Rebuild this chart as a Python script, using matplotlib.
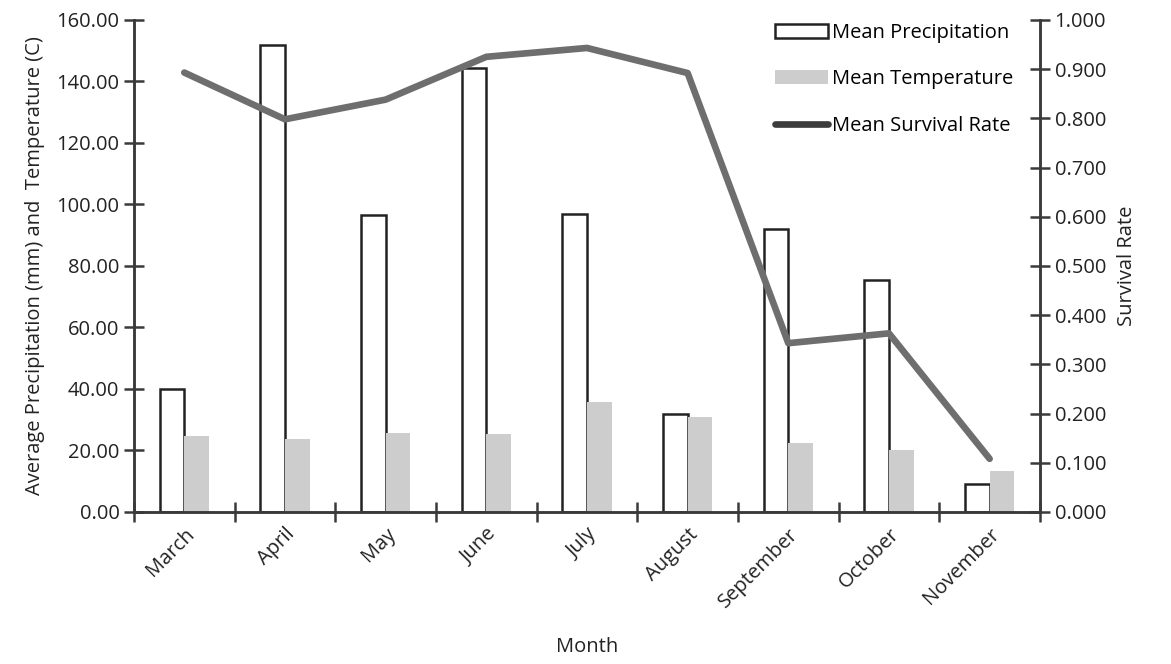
import numpy as np
import matplotlib.pyplot as plt
from matplotlib.patches import Patch
from matplotlib.lines import Line2D

months = ['March', 'April', 'May', 'June', 'July', 'August', 'September', 'October', 'November']
precip = [40.0, 152.0, 96.5, 144.3, 97.0, 31.8, 92.0, 75.5, 9.0]
temp = [24.8, 23.7, 25.8, 25.5, 35.8, 31.0, 22.5, 20.0, 13.4]
survival = [0.893, 0.798, 0.838, 0.925, 0.943, 0.892, 0.343, 0.363, 0.108]

plt.rcParams['font.family'] = ['Open Sans', 'DejaVu Sans']
axcol = '#3a3a3a'
txtcol = '#222222'

fig = plt.figure(figsize=(11.71, 6.64), dpi=100)
ax = fig.add_axes([0.1144, 0.229, 0.7737, 0.741])
ax2 = ax.twinx()

x = np.arange(len(months))
w = 0.245
ax.bar(x - w / 2, precip, width=w, color='white', edgecolor='#222222', linewidth=1.8, zorder=2)
ax.bar(x + w / 2, temp, width=w, color='#cdcdcd', edgecolor='none', zorder=2)
ax2.plot(x, survival, color='#6e6e6e', linewidth=4.8, solid_capstyle='round', zorder=3)

ax.set_xlim(-0.5, len(months) - 0.5)
ax.set_ylim(0, 160)
ax2.set_ylim(0, 1.0)
ax.set_yticks(np.arange(0, 161, 20))
ax.set_yticklabels(['%.2f' % v for v in np.arange(0, 161, 20)])
ax2.set_yticks(np.arange(0, 1.01, 0.1))
ax2.set_yticklabels(['%.3f' % v for v in np.arange(0, 1.01, 0.1)])

ax.set_xticks(x)
ax.set_xticklabels(months, rotation=45, ha='right', rotation_mode='anchor')
ax.set_xticks(np.arange(-0.5, len(months)), minor=True)
ax.tick_params(axis='x', which='major', length=0, pad=9, labelsize=14.5, colors=txtcol)
ax.tick_params(axis='x', which='minor', direction='inout', length=14, width=1.8, color=axcol)
ax.tick_params(axis='y', direction='inout', length=14, width=1.8, color=axcol, labelsize=14.5, labelcolor=txtcol)
ax2.tick_params(axis='y', direction='inout', length=14, width=1.8, color=axcol, labelsize=14.5, labelcolor=txtcol)

for a in (ax, ax2):
    a.spines['top'].set_visible(False)
    for s in ('left', 'right', 'bottom'):
        a.spines[s].set_color(axcol)
        a.spines[s].set_linewidth(1.8)

ax.set_ylabel('Average Precipitation (mm) and  Temperature (C)', fontsize=14.5, color=txtcol, labelpad=8)
ax2.set_ylabel('Survival Rate', fontsize=14.5, color=txtcol, labelpad=8)
ax.set_xlabel('Month', fontsize=14.5, color=txtcol, labelpad=18)

handles = [
    Patch(facecolor='white', edgecolor='#222222', linewidth=1.8),
    Patch(facecolor='#cdcdcd', edgecolor='none'),
    Line2D([0], [0], color='#3c3c3c', linewidth=4.8, solid_capstyle='round'),
]
ax2.legend(handles, ['Mean Precipitation', 'Mean Temperature', 'Mean Survival Rate'],
           loc='upper right', bbox_to_anchor=(0.99, 1.03), frameon=False, fontsize=14.5,
           handlelength=2.6, handleheight=0.7, labelspacing=1.3, handletextpad=0.2)

fig.savefig('out.png', dpi=100)
